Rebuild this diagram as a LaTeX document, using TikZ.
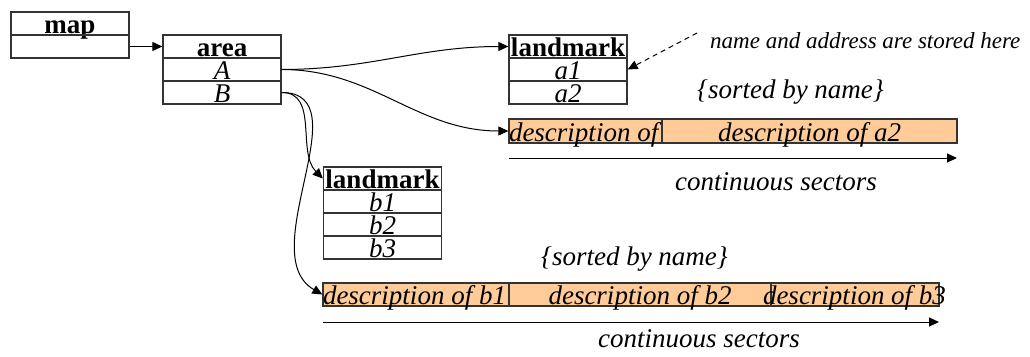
\documentclass[tikz,border=0pt]{standalone}
\usepackage{fontspec}
\setmainfont{Liberation Serif}
\usetikzlibrary{arrows.meta}
\definecolor{descfill}{HTML}{FFCC99}

\begin{document}
\begin{tikzpicture}[x=1pt,y=1pt,
 every edge/.style = {draw, line width=1pt, -{Triangle[length=10pt,width=9pt]}},
 cell/.style = {draw=black!80, line width=1.3pt, inner sep=0pt, minimum width=118pt, minimum height=23pt,
   text height=21.5pt, text depth=1.5pt, font=\fontsize{27}{27}\selectfont\itshape},
 head/.style = {cell, font=\fontsize{27}{27}\selectfont\bfseries},
 desc/.style = {cell, fill=descfill, minimum height=24pt},
 note/.style = {inner sep=0pt, anchor=base west, font=\fontsize{27}{27}\selectfont\itshape}]

\useasboundingbox (0,0) rectangle (1030,-356);

\node(map) [head] at (70,-23.5) {map};
\node(m1) [cell, minimum height=23pt] at (70,-46.5) {};

\node(area) [head] at (222,-46.5) {area};
\node(A) [cell] at (222,-69.5) {A};
\node(B) [cell] at (222,-92.5) {B};

\node(lmA) [head] at (568,-46.5) {landmark};
\node(a1) [cell] at (568,-69.5) {a1};
\node(a2) [cell] at (568,-92.5) {a2};

\node(lmB) [head] at (382.5,-178.5) {landmark};
\node(b1) [cell] at (382.5,-201.5) {b1};
\node(b2) [cell] at (382.5,-224.5) {b2};
\node(b3) [cell] at (382.5,-247.5) {b3};

\node(da1) [desc, minimum width=153pt] at (585.5,-131) {\makebox[153pt][l]{description of a1}};
\node(da2) [desc, minimum width=295pt] at (809.5,-131) {description of a2};

\node(db1) [desc, minimum width=186pt, minimum height=23pt] at (416,-294.5) {\makebox[186pt][l]{description of b1}};
\node(db2) [desc, minimum width=262pt, minimum height=23pt] at (640,-294.5) {description of b2};
\node(db3) [desc, minimum width=168pt, minimum height=23pt] at (855,-294.5) {\makebox[168pt][l]{\hspace*{-8pt}description of b3}};
%
\coordinate(secA0) at (509,-158);
\coordinate(secA1) at (957,-158);
\coordinate(secB0) at (323,-322);
\coordinate(secB1) at (939,-322);
\coordinate(noteTip) at (697,-33);

\node(noteA) [note, font=\fontsize{23}{23}\selectfont\itshape] at (710,-48) {name and address are stored here};
\node(sortA) [note] at (697,-98) {\{sorted by name\}};
\node(contA) [note] at (675,-190) {continuous sectors};
\node(sortB) [note] at (541,-265) {\{sorted by name\}};
\node(contB) [note] at (598,-347) {continuous sectors};

\path   (m1.east) edge (area.west)
        (A.east) edge [out=0,in=180] (lmA.west)
        (A.east) edge [out=0,in=180] (da1.west)
        (B.east) edge [out=0,in=135] (lmB.west)
        (B.east) edge [out=0,in=150] (db1.west)
        (noteTip) edge [dash pattern=on 5pt off 4pt] (a1.east)
        (secA0) edge (secA1)
        (secB0) edge (secB1);

\end{tikzpicture}
\end{document}
